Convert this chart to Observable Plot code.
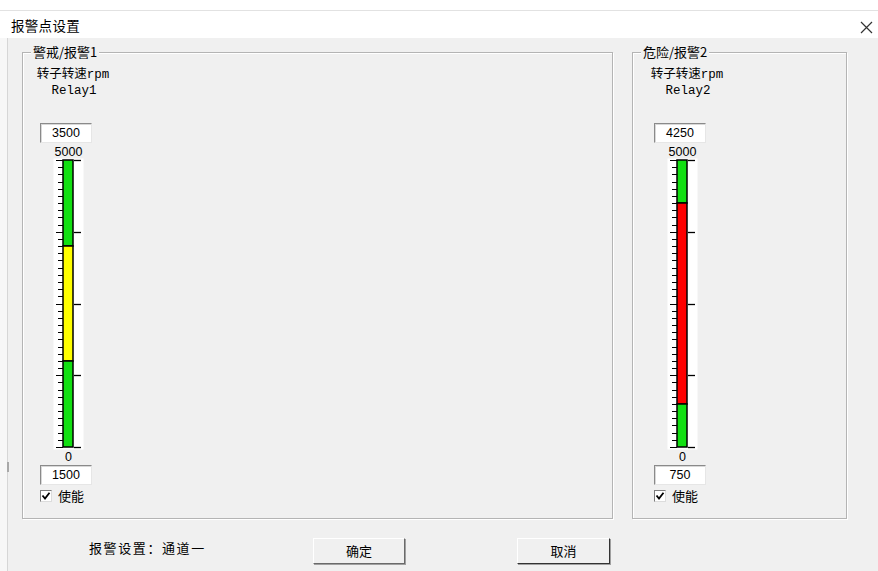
<!DOCTYPE html>
<html><head><meta charset="utf-8">
<script src="https://cdn.jsdelivr.net/npm/d3@7"></script>
<script src="https://cdn.jsdelivr.net/npm/@observablehq/plot@0.6"></script>
<style>
html,body{margin:0;padding:0;background:#f0f0f0;}
#win{position:relative;width:878px;height:571px;background:#f0f0f0;overflow:hidden;font-family:"Noto Sans CJK SC",sans-serif;color:#000;}
.abs{position:absolute;}
.group{position:absolute;border:1px solid #b4b4b4;box-shadow:1px 1px 0 #fff, inset 1px 1px 0 #fff;}
.glabel{position:absolute;top:-8px;left:8px;background:#f0f0f0;padding:0 2px;font-size:13px;line-height:14px;white-space:nowrap;}
.mono{font-family:"Liberation Mono","Noto Sans CJK SC",monospace;font-size:12.5px;line-height:13px;white-space:nowrap;text-align:center;}
.inbox{position:absolute;width:50px;height:18px;background:#fff;border:1px solid;border-color:#8a8a8a #e6e6e6 #e6e6e6 #8a8a8a;box-shadow:inset 1px 1px 0 #d8d8d8;font-family:"Liberation Sans",Arial,sans-serif;font-size:12.5px;line-height:18px;text-align:center;}
.chk{position:absolute;width:10px;height:10px;background:#fff;border:1px solid;border-color:#7c7c7c #dcdcdc #dcdcdc #7c7c7c;}
.chklbl{position:absolute;font-size:13px;line-height:13px;white-space:nowrap;}
.btn{position:absolute;height:24px;background:#f0f0f0;border:1px solid;border-color:#fff #6a6a6a #6a6a6a #fff;box-shadow:1px 1px 0 #a0a0a0;font-size:13px;line-height:24px;text-align:center;}
</style>
</head><body>
<div id="win"></div>
<script>
// ---- data ----
const dialogTitle = "报警点设置";
const groupTitles = ["警戒/报警1", "危险/报警2"];
const measureLabels = ["转子转速rpm", "转子转速rpm"];
const relayNames = ["Relay1", "Relay2"];
const upperSetpoints = [3500, 4250];
const lowerSetpoints = [1500, 750];
const scaleDomain = [0, 5000];
const majorStep = 1250;
const minorStep = 125;
const enableLabel = "使能";
const footerText = "报警设置：通道一";
const buttonLabels = ["确定", "取消"];

// ---- styles ----
const normalColor = "#12e012";
const alarmColors = ["#ffff00", "#ff0000"];

const win = document.getElementById("win");
function el(cls, css, html) {
  const d = document.createElement("div");
  if (cls) d.className = cls;
  d.style.cssText = css;
  if (html != null) d.innerHTML = html;
  win.appendChild(d);
  return d;
}

// window chrome
el("abs", "left:0;top:0;width:878px;height:38px;background:#fff;");
el("abs", "left:0;top:10px;width:878px;height:1px;background:#e2e2e2;");
el("abs", "left:11px;top:18px;font-size:13.5px;line-height:14px;letter-spacing:0.3px;", dialogTitle);
el("abs", "left:0;top:38px;width:7px;height:533px;background:#f7f7f7;");
el("abs", "left:7px;top:38px;width:1px;height:533px;background:#d6d6d6;");
el("abs", "left:7px;top:462px;width:2px;height:10px;background:#a8a8a8;");
el("abs", "left:858px;top:16px;width:16px;height:16px;",
  '<svg width="16" height="16"><path d="M3 3L14 14M14 3L3 14" stroke="#333" stroke-width="1.2"/></svg>');

// group boxes
const groupRects = [[22, 52, 589, 465], [632, 52, 213, 465]];
groupRects.forEach(([x, y, w, h], i) => {
  const g = el("group", `left:${x}px;top:${y}px;width:${w}px;height:${h}px;`);
  const lab = document.createElement("div");
  lab.className = "glabel";
  lab.textContent = groupTitles[i];
  g.appendChild(lab);
});

const yTicksMinor = d3.range(scaleDomain[0], scaleDomain[1] + 1, minorStep);
const yTicksMajor = d3.range(scaleDomain[0], scaleDomain[1] + 1, majorStep);

function gauge(i) {
  const hi = upperSetpoints[i], lo = lowerSetpoints[i];
  const segs = [
    {y1: hi, y2: scaleDomain[1], color: normalColor},
    {y1: lo, y2: hi, color: alarmColors[i]},
    {y1: scaleDomain[0], y2: lo, color: normalColor}
  ];
  return Plot.plot({
    width: 30, height: 318,
    marginLeft: 10, marginRight: 10, marginTop: 17, marginBottom: 14,
    style: {background: "transparent", overflow: "visible", fontFamily: "'Liberation Sans', Arial, sans-serif", fontSize: "12.5px", color: "#000"},
    x: {type: "band", domain: ["bar"], padding: 0, axis: null},
    y: {domain: scaleDomain, label: null, round: true},
    color: {type: "identity"},
    marks: [
      Plot.frame({fill: "#fff", stroke: null, insetLeft: -10, insetRight: -10, insetTop: -2, insetBottom: -2}),
      Plot.axisY({anchor: "left", ticks: yTicksMinor, tickSize: 5, tickFormat: () => "", label: null, stroke: "#000", strokeOpacity: 1}),
      Plot.axisY({anchor: "left", ticks: yTicksMajor, tickSize: 7, tickFormat: () => "", label: null, stroke: "#000", strokeOpacity: 1}),
      Plot.axisY({anchor: "right", ticks: yTicksMajor, tickSize: 7, tickFormat: () => "", label: null, stroke: "#000", strokeOpacity: 1, strokeWidth: 1.3}),
      Plot.rectY(segs, {x: () => "bar", y1: "y1", y2: "y2", fill: d => d.color, stroke: "#000", strokeWidth: 1.5}),
      Plot.text([scaleDomain[1]], {x: () => "bar", y: d => d, text: d => String(d), dy: -9, fontSize: 12.5}),
      Plot.text([scaleDomain[0]], {x: () => "bar", y: d => d, text: d => String(d), dy: 9, fontSize: 12.5})
    ]
  });
}

[0, 1].forEach(i => {
  const dx = i * 614;
  el("abs mono", `left:${23 + dx}px;top:69px;width:100px;`, measureLabels[i]);
  el("abs mono", `left:${24 + dx}px;top:85px;width:100px;`, relayNames[i]);
  el("inbox", `left:${40 + dx}px;top:123px;`, String(upperSetpoints[i]));
  const svg = gauge(i);
  svg.style.position = "absolute";
  svg.style.left = (53 + dx) + "px";
  svg.style.top = "143px";
  win.appendChild(svg);
  el("inbox", `left:${40 + dx}px;top:465px;`, String(lowerSetpoints[i]));
  el("chk", `left:${40 + dx}px;top:490px;`,
    '<svg width="10" height="10" style="display:block"><path d="M1.5 4.5L4 7.5L8.5 1.8" fill="none" stroke="#000" stroke-width="1.8"/></svg>');
  el("chklbl", `left:${58 + dx}px;top:489px;`, enableLabel);
});

// footer
el("abs", "left:89px;top:541px;font-size:13px;line-height:14px;letter-spacing:1.6px;white-space:nowrap;", footerText);
el("btn", "left:313px;top:538px;width:90px;", buttonLabels[0]);
el("btn", "left:517px;top:538px;width:91px;border-color:#fff #333 #333 #fff;", buttonLabels[1]);
</script>
</body></html>
